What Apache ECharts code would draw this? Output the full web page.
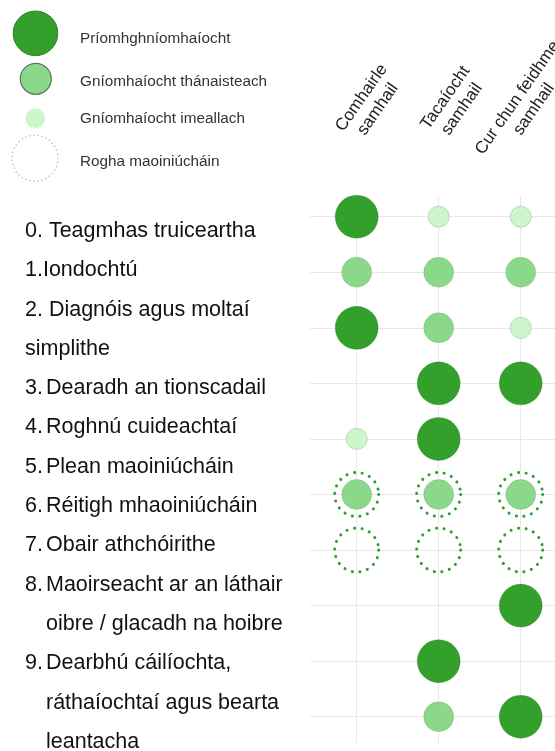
<!DOCTYPE html>
<html>
<head>
<meta charset="utf-8">
<script src="https://cdn.jsdelivr.net/npm/echarts@6/dist/echarts.min.js"></script>
<style>
html,body{margin:0;padding:0;background:#fff;}
#main{width:555px;height:751px;}
</style>
</head>
<body>
<div id="main"></div>
<script>
// ---- data ----
const columns = ['Comhairle\nsamhail', 'Tacaíocht\nsamhail', 'Cur chun feidhme\nsamhail'];
// a tab marks a hanging indent after the number
const stageLabels = [
  '0. Teagmhas truiceartha',
  '1.Iondochtú',
  '2. Diagnóis agus moltaí\nsimplithe',
  '3.\tDearadh an tionscadail',
  '4.\tRoghnú cuideachtaí',
  '5.\tPlean maoiniúcháin',
  '6.\tRéitigh mhaoiniúcháin',
  '7.\tObair athchóirithe',
  '8.\tMaoirseacht ar an láthair\noibre / glacadh na hoibre',
  '9.\tDearbhú cáilíochta,\nráthaíochtaí agus bearta\nleantacha'
];
const levelNames = ['Príomhghníomhaíocht', 'Gníomhaíocht thánaisteach', 'Gníomhaíocht imeallach', 'Rogha maoiniúcháin'];
// involvement per stage row: 3 = primary, 2 = secondary, 1 = marginal, 0 = none
const comhairle = [3, 2, 3, 0, 1, 2, 0, 0, 0, 0];
const tacaiocht = [1, 2, 2, 3, 3, 2, 0, 0, 3, 2];
const curChun   = [1, 2, 1, 3, 0, 2, 0, 3, 0, 3];
// funding option ring per stage row (all columns)
const fundingOption = [0, 0, 0, 0, 0, 1, 1, 0, 0, 0];

// ---- build ----
const matrix = [comhairle, tacaiocht, curChun];
function pointsFor(level) {
  const pts = [];
  matrix.forEach((col, c) => col.forEach((v, r) => { if (v === level) pts.push([c, r]); }));
  return pts;
}
const optionPts = [];
matrix.forEach((col, c) => fundingOption.forEach((f, r) => { if (f) optionPts.push([c, r]); }));

const FONT = '"Liberation Sans", Arial, Helvetica, sans-serif';
const C_PRI = '#33a02c', C_SEC = '#8bd88a', C_MAR = '#cdf6cc', C_OPT = '#2f9f2f';

const chart = echarts.init(document.getElementById('main'));
const rowIdx = stageLabels.map((s, i) => i);

chart.setOption({
  animation: false,
  backgroundColor: '#ffffff',
  grid: { left: 310, right: 0, top: 196, bottom: 8 },
  xAxis: { type: 'value', min: -0.5695, max: 2.418, show: false },
  yAxis: { type: 'value', min: -0.3726, max: 9.473, inverse: true, show: false },
  series: [
    {
      type: 'scatter', name: 'grid', data: [], silent: true, z: 1,
      markLine: {
        z: 1, silent: true, symbol: 'none', label: { show: false },
        emphasis: { disabled: true },
        lineStyle: { color: '#e8e8e8', width: 1, type: 'solid' },
        data: rowIdx.map(i => ({ yAxis: i })).concat(columns.map((c, i) => ({ xAxis: i })))
      }
    },
    {
      type: 'scatter', name: levelNames[0], data: pointsFor(3), symbolSize: 43, z: 10,
      itemStyle: { color: C_PRI, borderColor: 'rgba(30,100,30,0.3)', borderWidth: 0.8, opacity: 1 }
    },
    {
      type: 'scatter', name: levelNames[1], data: pointsFor(2), symbolSize: 30, z: 10,
      itemStyle: { color: C_SEC, borderColor: 'rgba(90,150,90,0.3)', borderWidth: 0.8, opacity: 1 }
    },
    {
      type: 'scatter', name: levelNames[2], data: pointsFor(1), symbolSize: 21, z: 10,
      itemStyle: { color: C_MAR, borderColor: '#b8d8b7', borderWidth: 1, opacity: 1 }
    },
    {
      type: 'scatter', name: levelNames[3], data: optionPts, symbolSize: 44, z: 11,
      itemStyle: { color: 'rgba(0,0,0,0)', borderColor: C_OPT, borderWidth: 3,
        borderType: [0.1, 7.65], borderCap: 'round', opacity: 1 }
    }
  ]
});

// ---- graphic: legend, column headers, stage labels ----
const g = [];
// legend
const legendIcons = [
  { cx: 35.5, cy: 33.3, r: 22.3, style: { fill: C_PRI, stroke: '#2a7d2a', lineWidth: 1 } },
  { cx: 35.8, cy: 78.8, r: 15.5, style: { fill: C_SEC, stroke: '#5d735d', lineWidth: 1.2 } },
  { cx: 35.3, cy: 118.3, r: 10, style: { fill: C_MAR } },
  { cx: 35, cy: 158.3, r: 23, style: { fill: null, stroke: '#a3d6a3', lineWidth: 1.6, lineDash: [0.1, 4.0], lineCap: 'round' } }
];
const legendTextY = [38.5, 81.5, 118.5, 162];
levelNames.forEach((name, i) => {
  const ic = legendIcons[i];
  g.push({ type: 'circle', shape: { cx: ic.cx, cy: ic.cy, r: ic.r }, style: ic.style, silent: true });
  g.push({ type: 'text', x: 80, y: legendTextY[i], silent: true,
    style: { text: name, font: '15.3px ' + FONT, fill: '#333', verticalAlign: 'middle', align: 'left' } });
});
// column headers
const headerNudge = [13, 15, 5];
const rot = 55 * Math.PI / 180;
columns.forEach((name, c) => {
  const p = chart.convertToPixel({ gridIndex: 0 }, [c, 0]);
  g.push({ type: 'text', x: p[0] + headerNudge[c], y: 103.5, rotation: rot, silent: true,
    style: { text: name, font: '17px ' + FONT, fill: '#222', align: 'center', verticalAlign: 'middle', lineHeight: 20 } });
});
// stage labels
const LINE0 = 231, LINE_H = 39.3;
let line = 0;
stageLabels.forEach(lbl => {
  const parts = lbl.split('\t');
  if (parts.length === 2) {
    const body = parts[1].split('\n');
    g.push({ type: 'text', x: 25, y: LINE0 + line * LINE_H, silent: true,
      style: { text: parts[0], font: '21.5px ' + FONT, fill: '#111', verticalAlign: 'middle' } });
    body.forEach(b => {
      g.push({ type: 'text', x: 46, y: LINE0 + line * LINE_H, silent: true,
        style: { text: b, font: '21.5px ' + FONT, fill: '#111', verticalAlign: 'middle' } });
      line++;
    });
  } else {
    lbl.split('\n').forEach(b => {
      g.push({ type: 'text', x: 25, y: LINE0 + line * LINE_H, silent: true,
        style: { text: b, font: '21.5px ' + FONT, fill: '#111', verticalAlign: 'middle' } });
      line++;
    });
  }
});
chart.setOption({ graphic: { elements: g } });
</script>
</body>
</html>
